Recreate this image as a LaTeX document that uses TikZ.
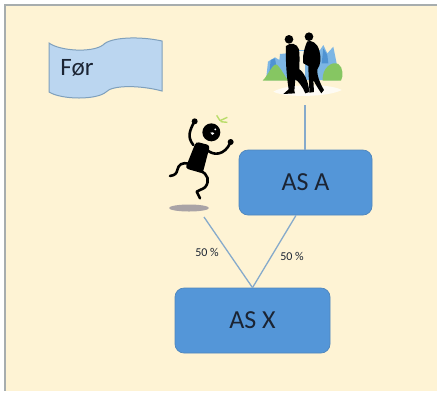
\documentclass[tikz,border=0pt]{standalone}
\usepackage{fontspec}
\usetikzlibrary{shapes.geometric}
\setmainfont{Carlito}
\definecolor{paper}{HTML}{FEF3D4}
\definecolor{boxblue}{HTML}{5496D8}
\definecolor{boxedge}{HTML}{4F86BC}
\definecolor{linkblue}{HTML}{86AACB}
\definecolor{flagfill}{HTML}{BBD6F0}
\definecolor{flagedge}{HTML}{7FA0BC}
\definecolor{inkdark}{HTML}{1B2433}
\definecolor{shadowgrey}{HTML}{A9A3A6}
\definecolor{spark}{HTML}{B9DC6A}
\definecolor{skyblue}{HTML}{7DB6E4}
\definecolor{skydeep}{HTML}{4F93D2}
\definecolor{bushgreen}{HTML}{86C662}
\definecolor{frameedge}{HTML}{A7ADAE}
\tikzset{
  company/.style={draw=boxedge,line width=.7pt,fill=boxblue,rounded corners=9pt,inner sep=0pt,text=inkdark,font=\fontsize{26}{26}\selectfont},
  link/.style={draw=linkblue,line width=1.3pt},
  share/.style={font=\fontsize{12}{12}\selectfont,text=inkdark,inner sep=0pt},
  limb/.style={draw=black,line width=2.6pt,line cap=round,line join=round},
  zoomA/.style={shift={(150,90)},x=.3333pt,y=-.3333pt},
  zoomB/.style={shift={(240,30)},x=.3333pt,y=-.3333pt},
}
\begin{document}
\begin{tikzpicture}[x=1pt,y=-1pt]
\useasboundingbox (0,0) rectangle (438,392);
% page
\fill[white] (0,0) rectangle (438,392);
\fill[paper] (4,4) rectangle (437,391);
\fill[frameedge] (4,4) rectangle (437,6);
\fill[frameedge] (4,4) rectangle (6,391);
% flag
\draw[draw=flagedge,line width=1pt,fill=flagfill]
  (49,43) .. controls (60,51) and (92,53) .. (103,45)
  .. controls (110,37) and (140,36) .. (162,41)
  -- (162,91)
  .. controls (140,85) and (112,85) .. (106,92)
  .. controls (97,100) and (62,100) .. (49,92) -- cycle;
\node[inner sep=0pt,text=inkdark,font=\fontsize{25}{25}\selectfont] (flagtext) at (77,68) {Før};
% people picture
\begin{scope}[zoomB]
  \fill[white,opacity=.75] (100,185) .. controls (140,160) and (270,160) .. (305,180) .. controls (270,200) and (140,205) .. (100,185) -- cycle;
  \fill[skyblue] (78,150) -- (84,95) -- (105,82) -- (118,90) -- (120,72) -- (140,70) -- (140,60) -- (240,60) -- (250,45) -- (262,70) -- (280,50) -- (290,100) -- (295,150) -- cycle;
  \fill[skydeep] (88,130) -- (92,90) -- (105,85) -- (112,125) -- cycle;
  \fill[skydeep] (245,100) -- (250,55) -- (262,75) -- (265,100) -- cycle;
  \fill[paper!70!white] (178,62) rectangle (195,150);
  \fill[bushgreen] (68,152) .. controls (85,135) and (100,95) .. (112,105) .. controls (125,118) and (135,140) .. (145,152) -- cycle;
  \fill[bushgreen] (248,152) .. controls (245,115) and (275,92) .. (295,102) .. controls (310,112) and (310,140) .. (303,152) -- cycle;
  % man
  \fill[black] (147,28) circle (13);
  \fill[black] (138,48) .. controls (150,36) and (172,40) .. (177,58)
    .. controls (180,80) and (178,100) .. (178,118)
    .. controls (190,125) and (205,150) .. (208,186) -- (196,190)
    .. controls (188,170) and (176,155) .. (166,148) -- (163,182) -- (165,190) -- (130,192) -- (146,178)
    .. controls (140,140) and (136,90) .. (138,48) -- cycle;
  % woman
  \fill[black] (207,20) circle (13);
  \fill[black] (202,34) .. controls (215,30) and (232,38) .. (238,62)
    .. controls (244,85) and (242,105) .. (232,118)
    .. controls (230,135) and (240,160) .. (252,180) -- (244,190)
    .. controls (234,175) and (226,162) .. (220,150) -- (222,186) -- (208,188)
    .. controls (208,160) and (205,130) .. (205,108) -- (190,100)
    .. controls (186,80) and (194,50) .. (202,34) -- cycle;
\end{scope}
\coordinate (peoplefoot) at (305,105);
% jumping figure
\begin{scope}[zoomA]
  \draw[limb] (130,165) .. controls (110,140) and (120,120) .. (133,95);
  \fill (134,94) circle (9);
  \draw[limb] (170,178) .. controls (190,200) and (225,195) .. (241,158);
  \fill (242,156) circle (9);
  \draw[limb] (118,222) .. controls (95,215) and (85,225) .. (82,240) .. controls (80,250) and (75,256) .. (60,258);
  \draw[limb] (150,243) .. controls (175,250) and (180,275) .. (165,292) .. controls (155,300) and (145,300) .. (140,305) -- (150,325);
  \fill[rounded corners=3pt] (138,155) -- (180,166) -- (158,250) -- (106,235) -- cycle;
  \fill (184,127) circle (27);
  \fill[white] (181,128) .. controls (183,136) and (190,136) .. (193,131) -- (189,127) -- cycle;
  \fill[white] (196,118) circle (3);
  \draw[spark,line width=1.4pt] (200,76) -- (210,92) (210,92) -- (232,82) (212,95) -- (232,97);
\end{scope}
\node[fill=shadowgrey,ellipse,minimum width=40pt,minimum height=7pt,inner sep=0pt] (shadow) at (189,208) {};
% companies
\node[company,minimum width=133pt,minimum height=65pt] (asa) at (305.5,182.5) {AS A};
\node[company,minimum width=155pt,minimum height=65pt] (asx) at (252.5,320.5) {AS X};
% links
\coordinate (shadowfoot) at (204,217);
\coordinate (afoot) at ([xshift=-9.5pt]asa.south);
\draw[link] (peoplefoot) -- (asa.north -| peoplefoot);
\draw[link] (shadowfoot) -- (asx.north);
\draw[link] (afoot) -- (asx.north);
\node[share] (left) at (207,252) {50 \%};
\node[share] (right) at (292,256) {50 \%};
\end{tikzpicture}
\end{document}
